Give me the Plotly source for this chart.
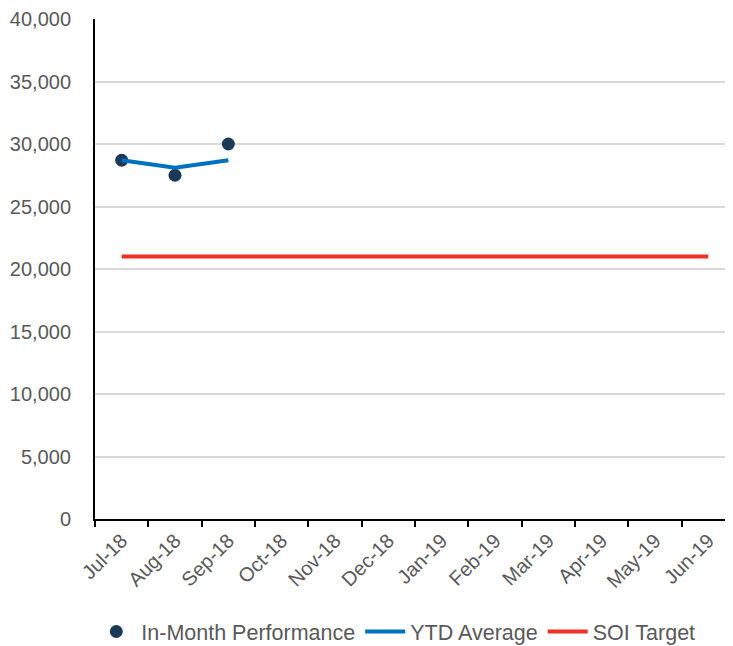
""" Monthly performance vs SOI target """
import plotly.graph_objects as go

# Data
months = ['Jul-18', 'Aug-18', 'Sep-18', 'Oct-18', 'Nov-18', 'Dec-18',
          'Jan-19', 'Feb-19', 'Mar-19', 'Apr-19', 'May-19', 'Jun-19']
in_month = [28700, 27500, 30000]
ytd_average = [28700, 28100, 28700]
soi_target = [21000] * len(months)
y_ticks = [0, 5000, 10000, 15000, 20000, 25000, 30000, 35000, 40000]

font_grey = '#595959'

fig = go.Figure()
fig.add_scatter(x=months[:len(in_month)], y=in_month, name='In-Month Performance', mode='markers',
                marker=dict(color='#1b3a57', size=13))
fig.add_scatter(x=months[:len(ytd_average)], y=ytd_average, name='YTD Average', mode='lines',
                line=dict(color='#0070c0', width=4))
fig.add_scatter(x=months, y=soi_target, name='SOI Target', mode='lines',
                line=dict(color='#ee3124', width=4))

fig.update_xaxes(type='category', categoryorder='array', categoryarray=months,
                 range=[-0.5, len(months) - 0.5], automargin=False,
                 tickson='boundaries', ticks='outside', ticklen=6, tickcolor='black', tickwidth=2,
                 showline=True, linecolor='black', linewidth=2, showgrid=False,
                 tickangle=-45, tickfont=dict(size=20, color=font_grey))
fig.update_yaxes(range=[0, 40000], tickvals=y_ticks, tickformat=',', showline=True, automargin=False,
                 linecolor='black', linewidth=2, gridcolor='#d9d9d9', gridwidth=1.5,
                 zeroline=False, ticks='', ticklabelstandoff=18,
                 tickfont=dict(size=20, color=font_grey))
fig.update_layout(width=727, height=646, plot_bgcolor='white', paper_bgcolor='white',
                  font=dict(family='Liberation Sans, Arial, sans-serif', color=font_grey),
                  margin=dict(l=87, r=0, t=11, b=135, autoexpand=False),
                  legend=dict(orientation='h', x=0.47, xanchor='center', y=-0.225, yanchor='middle',
                              font=dict(size=21.5, color=font_grey), itemwidth=40))
fig.write_html("out.html")
